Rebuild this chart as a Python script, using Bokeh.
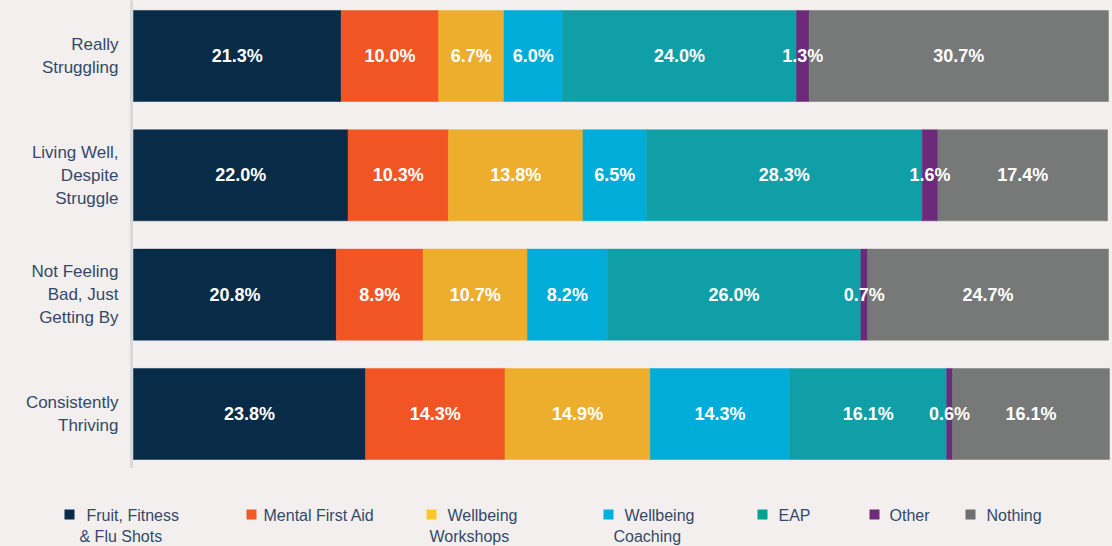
import numpy as np
from bokeh.plotting import figure
from bokeh.models import ColumnDataSource, Range1d, FixedTicker
from bokeh.layouts import column
from bokeh.embed import file_html
from bokeh.resources import INLINE
from bokeh.core.properties import value

# ---- data ----
categories = ["Really\nStruggling", "Living Well,\nDespite\nStruggle",
              "Not Feeling\nBad, Just\nGetting By", "Consistently\nThriving"]
series = ["Fruit, Fitness\n& Flu Shots", "Mental First Aid", "Wellbeing\nWorkshops",
          "Wellbeing\nCoaching", "EAP", "Other", "Nothing"]
fruit = [21.3, 22.0, 20.8, 23.8]
mental = [10.0, 10.3, 8.9, 14.3]
workshops = [6.7, 13.8, 10.7, 14.9]
coaching = [6.0, 6.5, 8.2, 14.3]
eap = [24.0, 28.3, 26.0, 16.1]
other = [1.3, 1.6, 0.7, 0.6]
nothing = [30.7, 17.4, 24.7, 16.1]

# ---- styles ----
BG = "#f3efee"
bar_colors = ["#082b47", "#f15524", "#edae2d", "#00acd8", "#109ea7", "#6d2a7b", "#777979"]
legend_colors = ["#0a2b48", "#f05a28", "#ffc629", "#00b0e0", "#00a293", "#6e2c7a", "#6f6f71"]
TEXT_COLOR = "#34496a"
FONT = "Liberation Sans"

values = [fruit, mental, workshops, coaching, eap, other, nothing]
keys = ["s%d" % i for i in range(len(series))]
ypos = list(range(len(categories) - 1, -1, -1))  # top to bottom

data = {"y": ypos}
for k, v in zip(keys, values):
    data[k] = v
src = ColumnDataSource(data)

W = 1112
p = figure(width=W, height=468, output_backend="svg", toolbar_location=None,
           x_range=Range1d(-0.205, 100.41), y_range=Range1d(-0.457, 3.465),
           min_border_left=131, min_border_right=0, min_border_top=0, min_border_bottom=0)
p.background_fill_color = BG
p.border_fill_color = BG
p.outline_line_color = None
p.grid.visible = False
p.xaxis.visible = False

p.hbar_stack(keys, y="y", height=0.763, source=src,
             fill_color=bar_colors, line_color=bar_colors, line_width=0.5)

# value labels centred in each segment
lx, ly, lt = [], [], []
for r in range(len(categories)):
    cum = 0.0
    for v in values:
        val = v[r]
        lx.append(cum + val / 2)
        ly.append(ypos[r])
        lt.append(f"{val:.1f}%")
        cum += val
p.text(x=lx, y=ly, text=lt, text_align="center", text_baseline="middle",
       text_color="white", text_font=value(FONT), text_font_style="bold",
       text_font_size="18px")

yax = p.yaxis[0]
yax.ticker = FixedTicker(ticks=ypos)
yax.major_label_overrides = {y: c for y, c in zip(ypos, categories)}
yax.axis_line_color = "#d9d9d9"
yax.axis_line_width = 3
yax.major_tick_line_color = None
yax.minor_tick_line_color = None
yax.major_tick_out = 0
yax.major_tick_in = 0
yax.major_label_text_font = FONT
yax.major_label_text_font_size = "17px"
yax.major_label_text_color = TEXT_COLOR
yax.major_label_standoff = 13

# ---- legend (separate strip, page-pixel coordinates) ----
sw_left = [64, 246, 426, 603, 757, 869, 965]
off1 = [22, 17, 21, 21, 21, 20, 21]
off2 = [15, 0, 3, 10, 0, 0, 0]
leg = figure(width=W, height=78, output_backend="svg", toolbar_location=None,
             x_range=Range1d(0, W), y_range=Range1d(546, 468),
             min_border_left=0, min_border_right=0, min_border_top=0, min_border_bottom=0)
leg.background_fill_color = BG
leg.border_fill_color = BG
leg.outline_line_color = None
leg.grid.visible = False
leg.axis.visible = False
p.frame_align = False
leg.frame_align = False

SY = 514
leg.rect(x=[s + 5 for s in sw_left], y=[SY] * len(sw_left), width=10, height=10,
         fill_color=legend_colors, line_color=None)
l1 = [s.split("\n")[0] for s in series]
l2 = [s.split("\n")[1] if "\n" in s else "" for s in series]
leg.text(x=[s + o for s, o in zip(sw_left, off1)], y=[SY + 1] * len(series), text=l1,
         text_align="left", text_baseline="middle", text_color=TEXT_COLOR,
         text_font=value(FONT), text_font_size="16px")
leg.text(x=[s + o for s, o in zip(sw_left, off2)], y=[SY + 22] * len(series), text=l2,
         text_align="left", text_baseline="middle", text_color=TEXT_COLOR,
         text_font=value(FONT), text_font_size="16px")

layout = column(p, leg, spacing=0)
layout.styles = {"background-color": BG}
open("out.html", "w").write(file_html(layout, INLINE))
